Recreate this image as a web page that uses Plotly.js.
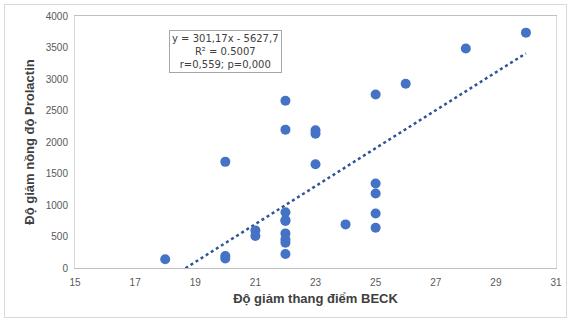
<!DOCTYPE html>
<html>
<head>
<meta charset="utf-8">
<script src="https://cdn.plot.ly/plotly-3.0.1.min.js"></script>
<style>
html,body{margin:0;padding:0;background:#fff;}
#wrap{position:relative;width:571px;height:320px;}
#chart{width:571px;height:320px;}
#frame{position:absolute;left:4px;top:4px;width:561px;height:312px;border:1px solid #d9d9d9;pointer-events:none;}
</style>
</head>
<body>
<div id="wrap"><div id="chart"></div><div id="frame"></div></div>
<script>
// Data
const beckDrop = [18, 20, 20, 20, 21, 21, 22, 22, 22, 22, 22, 22, 22, 22, 22, 23, 23, 23, 24, 25, 25, 25, 25, 25, 26, 28, 30];
const prolactinDrop = [140, 1685, 190, 150, 597, 507, 2655, 2196, 886, 760, 745, 549, 454, 402, 222, 2185, 2132, 1646, 692, 2755, 1341, 1182, 866, 639, 2924, 3483, 3736];
const slope = 301.17;
const intercept = -5627.7;
const trendX = [18, 30];
const trendY = trendX.map(x => slope * x + intercept);
const xTicks = [15, 17, 19, 21, 23, 25, 27, 29, 31];
const yTicks = [0, 500, 1000, 1500, 2000, 2500, 3000, 3500, 4000];
const eqText = "y = 301,17x - 5627,7<br>R² = 0.5007<br>r=0,559; p=0,000";

const traces = [
  {
    x: trendX, y: trendY, type: 'scatter', mode: 'lines',
    line: {color: '#2F5597', width: 2.5, dash: 'dot'},
    hoverinfo: 'skip', showlegend: false
  },
  {
    x: beckDrop, y: prolactinDrop, type: 'scatter', mode: 'markers',
    marker: {color: '#4472C4', size: 10, line: {width: 0}},
    showlegend: false, cliponaxis: false
  }
];

const layout = {
  width: 571, height: 320,
  margin: {l: 75, r: 15, t: 16, b: 52},
  paper_bgcolor: '#ffffff', plot_bgcolor: '#ffffff',
  font: {family: 'Liberation Sans, Arial, sans-serif', color: '#595959', size: 10},
  xaxis: {
    range: [15, 31], tickvals: xTicks, ticktext: xTicks.map(String),
    showgrid: false, zeroline: false,
    showline: true, linecolor: '#bfbfbf', linewidth: 1, mirror: true,
    ticks: '', ticklabelstandoff: 5, tickfont: {size: 10, color: '#595959'},
    title: {text: 'Độ giảm thang điểm BECK', font: {size: 13, color: '#404040', family: 'Liberation Sans, Arial, sans-serif', weight: 'bold'}, standoff: 6}
  },
  yaxis: {
    range: [0, 4000], tickvals: yTicks, ticktext: yTicks.map(String),
    showgrid: false, zeroline: false,
    showline: true, linecolor: '#d9d9d9', linewidth: 1, mirror: true,
    ticks: '', ticklabelstandoff: 4, tickfont: {size: 10, color: '#595959'},
    title: {text: 'Độ giảm nồng độ Prolactin', font: {size: 13, color: '#404040', family: 'Liberation Sans, Arial, sans-serif', weight: 'bold'}, standoff: 8}
  },
  annotations: [{
    xref: 'x', yref: 'y', x: 18.12, y: 3785, xanchor: 'left', yanchor: 'top',
    text: eqText, showarrow: false, align: 'center',
    font: {size: 10, color: '#404040', family: 'DejaVu Sans, sans-serif'},
    bordercolor: '#a6a6a6', borderwidth: 1, borderpad: 2, bgcolor: '#ffffff'
  }]
};

Plotly.newPlot('chart', traces, layout, {displayModeBar: false, staticPlot: true});
</script>
</body>
</html>
